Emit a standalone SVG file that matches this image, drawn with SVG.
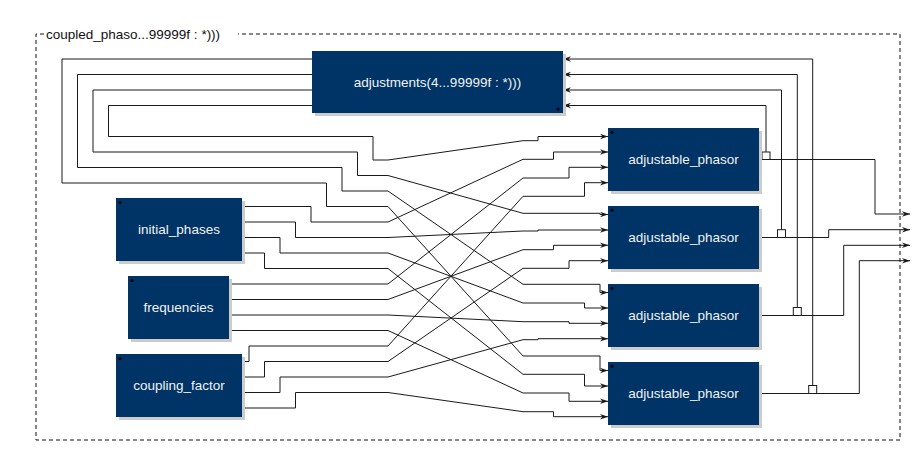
<svg xmlns="http://www.w3.org/2000/svg" width="917" height="465" viewBox="0 0 917 465">
<style>
.frame{fill:none;stroke:#111;stroke-width:1;stroke-dasharray:4,3}
.title{font-family:"Liberation Sans",Arial,sans-serif;font-size:13.5px;fill:#111}
.box{fill:#003366}
.shadow{fill:#cccccc}
.lbl{font-family:"Liberation Sans",Arial,sans-serif;font-size:13.5px;fill:#f2f2f2;text-anchor:middle}
.dot{fill:#000}
.wire{fill:none;stroke:#1a1a1a;stroke-width:1}
.arr{fill:none;stroke:#1a1a1a;stroke-width:1;marker-end:url(#ah)}
.hop{fill:#fff;stroke:#1a1a1a;stroke-width:1}
</style>
<defs>
<marker id="ah" markerUnits="userSpaceOnUse" markerWidth="9" markerHeight="7" refX="8" refY="3" orient="auto">
<path d="M0,0.3 L8,3 L0,5.7 L2.5,3 z" fill="#1a1a1a"/>
</marker>
</defs>
<rect width="917" height="465" fill="#fff"/>
<g id="frame">
<path class="frame" d="M44,34 H36 V440 H900 V34 H238"/>
<text class="title" x="46" y="39">coupled_phaso...99999f : *)))</text>
</g>
<g id="connectors">
<path class="arr" d="M312,105.5 H108.5 V136.5 H373 V160 H388 L523,140.7 H538 V136.5 H608"/>
<path class="arr" d="M312,90 H93 V152 H357.5 V175.5 H388 L523,213.3 H600 V214.5 H608"/>
<path class="arr" d="M312,74.5 H77.5 V167.5 H342 V191 H388 L523,284.3 H600 V292.5 H608"/>
<path class="arr" d="M312,59 H62 V183 H326.5 V206.5 H388 L523,356 H600 V370.5 H608"/>
<path class="arr" d="M242,206.5 H311 V222 H388 L523,159.3 H553.5 V152 H608"/>
<path class="arr" d="M242,222 H295.5 V237.5 H388 L523,231 H538 V230 H608"/>
<path class="arr" d="M242,237.5 H280 V253 H388 L523,303 H584.5 V308 H608"/>
<path class="arr" d="M242,253 H264.5 V268.5 H388 L523,374.3 H584.5 V386 H608"/>
<path class="arr" d="M229,284 H388 L523,178 H569 V167.3 H608"/>
<path class="arr" d="M229,299.5 H388 L523,249.7 H553.5 V245.3 H608"/>
<path class="arr" d="M229,315 H388 L523,321.7 H569 V323.3 H608"/>
<path class="arr" d="M229,330.5 H388 L523,393 H569 V401.3 H608"/>
<path class="arr" d="M242,361.5 H249 V346 H388 L523,196.3 H584.5 V182.7 H608"/>
<path class="arr" d="M242,377 H264.5 V361.5 H388 L523,268.3 H569 V260.7 H608"/>
<path class="arr" d="M242,392.5 H280 V377 H388 L523,339.7 H538 V338.7 H608"/>
<path class="arr" d="M242,408 H295.5 V392.5 H388 L523,411.7 H553.5 V416.7 H608"/>
<path class="arr" d="M759,159.5 H875 V214 H910"/>
<path class="arr" d="M759,237.5 H828.7 V229.7 H910"/>
<path class="arr" d="M759,315.5 H843.7 V245.3 H910"/>
<path class="arr" d="M759,393.5 H859.3 V260.7 H910"/>
<path class="arr" d="M766,152 V105.5 H563"/>
<path class="arr" d="M781.5,229.7 V90 H563"/>
<path class="arr" d="M797.3,307.5 V74.5 H563"/>
<path class="arr" d="M812.7,385.5 V59 H563"/>
<rect class="hop" x="762" y="152" width="8" height="7.5"/>
<rect class="hop" x="777.5" y="229.7" width="8" height="7.8"/>
<rect class="hop" x="793.3" y="307.5" width="8" height="8"/>
<rect class="hop" x="808.7" y="385.5" width="8" height="8"/>
</g>
<g id="adjustments">
<rect class="shadow" x="315" y="54" width="251" height="62"/>
<rect class="box" x="312" y="51" width="251" height="62"/>
<text class="lbl" x="437.5" y="86.8">adjustments(4...99999f : *)))</text>
<circle class="dot" cx="558" cy="109" r="1.6"/>
</g>
<g id="initial_phases">
<rect class="shadow" x="119" y="201" width="126" height="63"/>
<rect class="box" x="116" y="198" width="126" height="63"/>
<text class="lbl" x="179" y="234.3">initial_phases</text>
<circle class="dot" cx="120" cy="202.5" r="1.6"/>
</g>
<g id="frequencies">
<rect class="shadow" x="131" y="279" width="101" height="63"/>
<rect class="box" x="128" y="276" width="101" height="63"/>
<text class="lbl" x="178.5" y="312.3">frequencies</text>
<circle class="dot" cx="132" cy="280.5" r="1.6"/>
</g>
<g id="coupling_factor">
<rect class="shadow" x="119" y="357" width="126" height="63"/>
<rect class="box" x="116" y="354" width="126" height="63"/>
<text class="lbl" x="179" y="390.3">coupling_factor</text>
<circle class="dot" cx="120" cy="358.5" r="1.6"/>
</g>
<g id="adjustable_phasor_1">
<rect class="shadow" x="611" y="131" width="151" height="63"/>
<rect class="box" x="608" y="128" width="151" height="63"/>
<text class="lbl" x="683.5" y="164.3">adjustable_phasor</text>
<circle class="dot" cx="612" cy="132.3" r="1.6"/>
</g>
<g id="adjustable_phasor_2">
<rect class="shadow" x="611" y="209" width="151" height="63"/>
<rect class="box" x="608" y="206" width="151" height="63"/>
<text class="lbl" x="683.5" y="242.3">adjustable_phasor</text>
<circle class="dot" cx="612" cy="210.3" r="1.6"/>
</g>
<g id="adjustable_phasor_3">
<rect class="shadow" x="611" y="287" width="151" height="63"/>
<rect class="box" x="608" y="284" width="151" height="63"/>
<text class="lbl" x="683.5" y="320.3">adjustable_phasor</text>
<circle class="dot" cx="612" cy="288.3" r="1.6"/>
</g>
<g id="adjustable_phasor_4">
<rect class="shadow" x="611" y="365" width="151" height="63"/>
<rect class="box" x="608" y="362" width="151" height="63"/>
<text class="lbl" x="683.5" y="398.3">adjustable_phasor</text>
<circle class="dot" cx="612" cy="366.3" r="1.6"/>
</g>
</svg>
